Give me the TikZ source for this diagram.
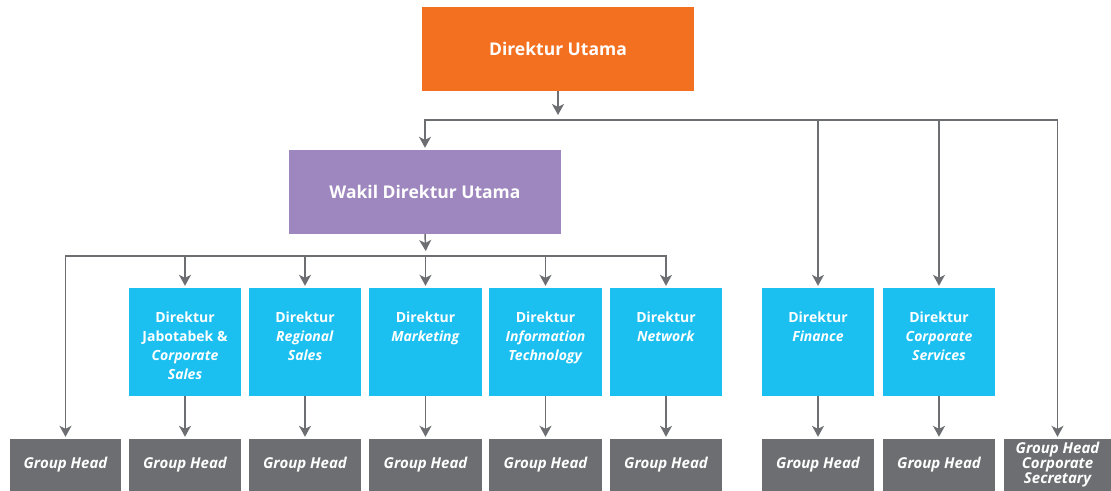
\documentclass[tikz,border=0pt]{standalone}
\usepackage{fontspec}
\setmainfont{Open Sans}
\usetikzlibrary{arrows.meta}

\definecolor{cOrange}{HTML}{F37021}
\definecolor{cPurple}{HTML}{9E87BE}
\definecolor{cBlue}{HTML}{1BC0F1}
\definecolor{cGray}{HTML}{6D6E71}
\definecolor{cLine}{HTML}{6D6E71}

% a director box (blue) with its caption hanging from the top
\newcommand\dirunit[4]{% name, left x, right x, caption
  \node[bluebox, minimum width={#3-#2}] (#1) at ({(#2+#3)/2},342) {};
  \node[bluetext] (#1-t) at ({(#2+#3)/2},312) {#4};
}
% a group head box (grey)
\newcommand\ghbox[4]{% name, left x, right x, caption
  \node[graybox, minimum width={#3-#2}] (#1) at ({(#2+#3)/2},465) {#4};
}

\begin{document}
\begin{tikzpicture}[x=1pt,y=-1pt,
  topbox/.style={inner sep=0, minimum width=272, minimum height=84,
    text=white, font=\fontsize{17.5}{21}\selectfont\bfseries},
  bluebox/.style={fill=cBlue, inner sep=0, minimum height=108},
  bluetext/.style={anchor=north, inner sep=0, align=center, text=white,
    font=\fontsize{14}{19}\selectfont\bfseries},
  graybox/.style={fill=cGray, inner sep=0, minimum height=52, align=center,
    text=white, font=\fontsize{15}{15}\selectfont\bfseries\itshape},
  arr/.style={draw=cLine, line width=1.5pt,
    -{Stealth[length=11pt, width=12pt, inset=3pt]}, shorten >=2pt},
]
\useasboundingbox (0,0) rectangle (1111,490);

% top management
\node[topbox, fill=cOrange] (du) at (558,49) {Direktur Utama};
\node[topbox, fill=cPurple] (wdu) at (425,192) {Wakil Direktur Utama};

% directors
\dirunit{djc}{129}{241}{Direktur\\Jabotabek \&\\\textit{Corporate}\\\textit{Sales}}
\dirunit{drs}{249}{361}{Direktur\\\textit{Regional}\\\textit{Sales}}
\dirunit{dmk}{369}{482}{Direktur\\\textit{Marketing}}
\dirunit{dit}{489}{602}{Direktur\\\textit{Information}\\\textit{Technology}}
\dirunit{dnw}{610}{722}{Direktur\\\textit{Network}}
\dirunit{dfn}{762}{874}{Direktur\\\textit{Finance}}
\dirunit{dcs}{883}{995}{Direktur\\\textit{Corporate}\\\textit{Services}}

% group heads
\ghbox{gh1}{10}{121}{Group Head}
\ghbox{gh2}{129}{241}{Group Head}
\ghbox{gh3}{249}{361}{Group Head}
\ghbox{gh4}{369}{482}{Group Head}
\ghbox{gh5}{489}{602}{Group Head}
\ghbox{gh6}{610}{722}{Group Head}
\ghbox{gh7}{762}{874}{Group Head}
\ghbox{gh8}{883}{995}{Group Head}
\ghbox{gh9}{1004}{1111}{Group Head\\Corporate\\Secretary}

% distribution buses
\coordinate (bus1) at (558,120);
\coordinate (bus2) at (426,256);

% from Direktur Utama
\draw[arr, shorten >=5pt] (du.south) -- (bus1);
\draw[arr] (bus1) -| (wdu.north);
\draw[arr] (bus1) -| (gh9.north);
\draw[arr] (dfn.north |- bus1) -- (dfn.north);
\draw[arr] (dcs.north |- bus1) -- (dcs.north);

% from Wakil Direktur Utama
\draw[arr, shorten >=5pt] (wdu.south) -- (bus2);
\draw[arr] (bus2) -| (gh1.north);
\draw[arr] (bus2) -| (dnw.north);
\foreach \n in {djc, drs, dmk, dit}
  \draw[arr] (\n.north |- bus2) -- (\n.north);

% directors to their group heads
\foreach \d/\g in {djc/gh2, drs/gh3, dmk/gh4, dit/gh5, dnw/gh6, dfn/gh7, dcs/gh8}
  \draw[arr] (\d.south) -- (\g.north);
\end{tikzpicture}
\end{document}
